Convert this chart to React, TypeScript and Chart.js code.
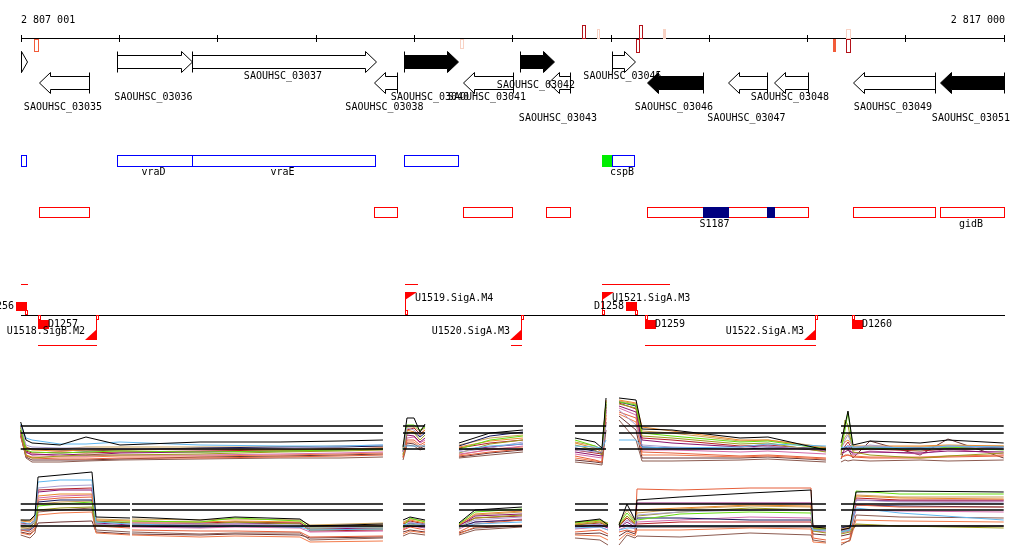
import React, { useEffect, useRef } from 'react';
import { Chart, registerables } from 'chart.js';

Chart.register(...registerables);

// ---------------- genomic window ----------------
const WINDOW_START = 2807001;
const WINDOW_END = 2817000;
const TICK_STEP = 1000;

// ---------------- genes ----------------
const GENES = [
  { name: '', start: 2807001, end: 2807065, strand: 1, dark: false, lane: -1 },
  { name: 'SAOUHSC_03035', start: 2807187, end: 2807696, strand: -1, dark: false, lane: 3 },
  { name: 'SAOUHSC_03036', start: 2807981, end: 2808744, strand: 1, dark: false, lane: 2 },
  { name: 'SAOUHSC_03037', start: 2808744, end: 2810615, strand: 1, dark: false, lane: 0 },
  { name: 'SAOUHSC_03038', start: 2810595, end: 2810829, strand: -1, dark: false, lane: 3 },
  { name: 'SAOUHSC_03040', start: 2810900, end: 2811450, strand: 1, dark: true, lane: 2 },
  { name: 'SAOUHSC_03041', start: 2811501, end: 2812009, strand: -1, dark: false, lane: 2 },
  { name: 'SAOUHSC_03042', start: 2812080, end: 2812426, strand: 1, dark: true, lane: 1 },
  { name: 'SAOUHSC_03043', start: 2812365, end: 2812589, strand: -1, dark: false, lane: 4 },
  { name: 'SAOUHSC_03045', start: 2813016, end: 2813250, strand: 1, dark: false, lane: 0 },
  { name: 'SAOUHSC_03046', start: 2813372, end: 2813942, strand: -1, dark: true, lane: 3 },
  { name: 'SAOUHSC_03047', start: 2814196, end: 2814593, strand: -1, dark: false, lane: 4 },
  { name: 'SAOUHSC_03048', start: 2814664, end: 2815010, strand: -1, dark: false, lane: 2 },
  { name: 'SAOUHSC_03049', start: 2815468, end: 2816302, strand: -1, dark: false, lane: 3 },
  { name: 'SAOUHSC_03051', start: 2816353, end: 2817000, strand: -1, dark: true, lane: 4 },
];

// marks on the coordinate ruler (level 1 weak, 2 medium, 3 strong)
const RULER_MARKS = [
  { from: 2807140, to: 2807172, strand: -1, level: 2, filled: false },
  { from: 2811470, to: 2811496, strand: -1, level: 1, filled: false },
  { from: 2812712, to: 2812744, strand: 1, level: 3, filled: false },
  { from: 2812858, to: 2812884, strand: 1, level: 1, filled: false },
  { from: 2813290, to: 2813322, strand: 1, level: 3, filled: false },
  { from: 2813262, to: 2813292, strand: -1, level: 3, filled: false },
  { from: 2813532, to: 2813556, strand: 1, level: 1, filled: true },
  { from: 2815262, to: 2815284, strand: -1, level: 2, filled: true },
  { from: 2815400, to: 2815440, strand: 1, level: 1, filled: false },
  { from: 2815400, to: 2815440, strand: -1, level: 3, filled: false },
];

// operons (blue) and extra green feature
const OPERONS = [
  { name: '', start: 2807001, end: 2807055 },
  { name: 'vraD', start: 2807981, end: 2808744 },
  { name: 'vraE', start: 2808744, end: 2810605 },
  { name: '', start: 2810900, end: 2811450 },
  { name: 'cspB', start: 2813016, end: 2813240 },
];
const GREEN_FEATURES = [{ start: 2812916, end: 2813016 }];

// transcripts (red) and sRNA (navy)
const TRANSCRIPTS = [
  { name: '', start: 2807187, end: 2807696 },
  { name: '', start: 2810595, end: 2810829 },
  { name: '', start: 2811501, end: 2811999 },
  { name: '', start: 2812346, end: 2812590 },
  { name: '', start: 2813372, end: 2813942 },
  { name: '', start: 2814196, end: 2814593 },
  { name: '', start: 2814664, end: 2815010 },
  { name: '', start: 2815468, end: 2816302 },
  { name: 'gidB', start: 2816353, end: 2817000 },
];
const SRNAS = [
  { name: 'S1187', start: 2813942, end: 2814196 },
  { name: '', start: 2814593, end: 2814664 },
];

// promoters and terminators
const PROMOTERS = [
  { name: 'U1518.SigB.M2', pos: 2807767, strand: -1, spanTo: 2807177 },
  { name: 'U1519.SigA.M4', pos: 2810910, strand: 1, spanTo: 2811032 },
  { name: 'U1520.SigA.M3', pos: 2812090, strand: -1, spanTo: 2811989 },
  { name: 'U1521.SigA.M3', pos: 2812914, strand: 1, spanTo: 2813596 },
  { name: 'U1522.SigA.M3', pos: 2815081, strand: -1, spanTo: 2813352 },
];
const TERMINATORS = [
  { name: 'D1256', pos: 2807050, strand: 1, spanFrom: 2807001, spanTo: 2807060 },
  { name: 'D1257', pos: 2807182, strand: -1, spanFrom: 0, spanTo: 0 },
  { name: 'D1258', pos: 2813260, strand: 1, spanFrom: 0, spanTo: 0 },
  { name: 'D1259', pos: 2813352, strand: -1, spanFrom: 0, spanTo: 0 },
  { name: 'D1260', pos: 2815453, strand: -1, spanFrom: 0, spanTo: 0 },
];

// ---------------- expression panels ----------------
const SERIES_COLORS = [
  '#000000', '#5fb6ef', '#aa9fd0', '#66dd11', '#9c9a1c', '#e9892c', '#8a136e', '#e65f3a',
  '#8b5a4f', '#16165c', '#d46aa9', '#b41f26', '#c99f55', '#f27a4a', '#6a3434',
];

// panel 1 (strand +)
const PANEL1_X = [
  [2807001, 2807055, 2807116, 2807401, 2807665, 2808011, 2808825, 2809639, 2810249, 2810686],
  [2810890, 2810930, 2811002, 2811063, 2811114],
  [2811459, 2811775, 2812110],
  [2812639, 2812843, 2812914, 2812955],
  [2813087, 2813260, 2813321, 2813626, 2814318, 2814602, 2815192],
  [2815345, 2815386, 2815416, 2815467, 2815640, 2816149, 2816433, 2817000],
];
const PANEL1_REF = [4.4, 3.7, 2.1];
const PANEL1_SERIES = [
  [[4.8,3.0,2.7,2.5,3.3,2.5,2.8,2.8,2.9,3.0],[2.3,5.2,5.2,3.8,4.6],[2.7,3.7,4.0],[3.2,2.8,2.2,7.2],[7.2,7.0,4.1,4.0,3.2,3.3,2.0],[2.7,4.5,5.9,2.5,2.9,2.7,3.0,2.7]],
  [[4.6,3.2,3.0,2.6,2.6,2.8,2.5,2.4,2.4,2.5],[2.4,2.4,2.4,2.4,2.4],[2.0,2.4,2.6],[2.4,2.3,2.2,3.0],[3.0,3.0,2.3,2.2,2.3,2.6,2.4],[2.2,2.3,2.4,2.3,2.3,2.2,2.4,2.3]],
  [[4.5,2.5,2.3,2.2,2.2,2.1,2.1,2.2,2.4,2.5],[1.8,4.2,4.0,3.4,3.8],[1.8,2.2,2.8],[2.0,1.8,1.8,4.5],[6.0,4.5,2.5,2.3,2.1,2.4,2.0],[2.0,3.0,3.5,2.2,2.5,2.0,2.4,2.1]],
  [[4.2,2.0,1.8,1.7,1.8,1.9,1.8,1.9,2.0,2.1],[2.0,4.5,4.5,4.0,4.3],[2.1,3.0,3.4],[3.0,2.4,2.0,6.8],[6.8,6.5,3.7,3.4,2.8,2.9,2.1],[2.0,4.0,5.8,2.1,2.2,2.0,2.3,2.0]],
  [[4.0,1.5,1.2,1.4,1.5,1.5,1.6,1.8,1.9,2.0],[1.5,3.8,3.7,3.0,3.5],[1.7,2.6,3.0],[2.5,2.0,1.5,6.5],[6.6,6.2,3.4,3.2,2.6,2.7,1.8],[1.5,5.0,4.5,1.8,1.5,1.2,1.4,1.7]],
  [[4.4,2.2,2.0,1.9,2.0,2.0,2.1,2.0,2.1,2.2],[2.2,4.0,3.8,3.5,4.0],[2.3,2.9,3.2],[2.7,2.2,1.8,7.0],[7.0,6.7,4.3,3.9,3.0,3.0,2.2],[2.3,2.8,3.0,2.4,2.4,2.4,2.5,2.4]],
  [[3.8,1.8,1.5,1.6,1.5,1.7,1.8,1.9,2.0,2.1],[1.8,3.5,3.4,2.8,3.2],[2.0,2.3,2.6],[1.8,1.5,1.4,6.0],[6.4,5.8,3.0,2.7,2.3,2.4,1.9],[1.7,1.8,2.0,1.7,1.8,1.7,1.9,1.8]],
  [[3.6,1.4,1.2,1.1,1.1,1.2,1.2,1.3,1.4,1.5],[1.2,3.0,3.0,2.5,2.8],[1.4,1.8,2.1],[1.4,1.0,0.8,5.5],[5.8,5.2,1.8,1.7,1.4,1.5,1.2],[1.2,1.5,1.5,1.3,1.2,1.2,1.3,1.4]],
  [[3.5,1.2,0.8,0.8,0.9,1.0,1.1,1.2,1.2,1.3],[1.0,2.5,2.4,2.0,2.2],[1.2,1.5,1.8],[0.8,0.6,0.5,4.0],[5.0,3.0,0.9,0.9,1.0,1.1,0.8],[0.8,1.0,0.9,1.0,0.9,1.0,0.9,1.0]],
  [[4.0,2.2,2.1,2.0,1.9,2.0,2.2,2.3,2.3,2.4],[2.1,3.7,3.8,3.3,3.7],[2.4,3.4,3.8],[2.2,1.9,1.7,6.6],[6.8,6.4,2.3,2.2,2.1,2.2,2.2],[2.1,2.2,2.2,2.2,2.2,2.2,2.2,2.3]],
  [[3.7,1.7,1.6,1.4,1.4,1.5,1.5,1.6,1.7,1.8],[1.6,3.2,3.3,2.7,3.0],[1.6,2.0,2.4],[1.6,1.3,1.2,5.8],[6.2,5.5,2.0,2.0,1.8,1.9,1.6],[1.5,2.1,2.5,1.5,1.9,1.6,2.1,1.6]],
  [[3.9,1.9,1.7,1.8,1.7,1.8,1.9,2.0,2.1,2.2],[1.9,4.0,4.2,3.6,4.0],[2.2,2.7,3.0],[2.0,1.7,1.6,6.3],[6.7,6.1,3.2,3.0,2.4,2.5,2.0],[1.9,2.4,2.8,2.0,2.1,1.9,2.1,2.1]],
  [[4.3,2.3,2.1,2.1,2.3,2.3,2.3,2.3,2.4,2.4],[2.4,4.3,4.3,3.9,4.2],[2.5,3.2,3.5],[2.8,2.4,2.1,6.9],[6.9,6.6,3.9,3.7,2.9,3.0,2.3],[2.4,3.3,3.7,2.3,2.3,2.3,2.4,2.4]],
  [[3.3,1.5,1.3,1.3,1.3,1.4,1.4,1.5,1.6,1.7],[1.4,2.8,2.8,2.3,2.6],[1.5,2.1,2.3],[1.2,0.9,0.8,5.2],[5.6,4.8,1.5,1.5,1.3,1.4,1.1],[1.3,1.4,1.5,1.4,1.3,1.3,1.4,1.5]],
  [[3.4,1.3,1.0,1.0,1.0,1.1,1.3,1.4,1.5,1.6],[1.3,2.7,2.6,2.2,2.4],[1.3,1.7,2.0],[1.0,0.8,0.7,4.8],[5.4,4.0,1.2,1.2,1.2,1.3,1.0],[1.1,2.3,2.1,1.2,2.9,1.5,3.1,1.2]],
];

// panel 2 (strand -)
const PANEL2_X = [
  [2807001, 2807096, 2807146, 2807177, 2807401, 2807726, 2807767, 2808113],
  [2808133, 2808825, 2809181, 2809842, 2809944, 2810686],
  [2810890, 2810961, 2811114],
  [2811459, 2811622, 2812100],
  [2812639, 2812893, 2812975],
  [2813087, 2813168, 2813250, 2813270, 2813707, 2814419, 2815040, 2815060, 2815192],
  [2815345, 2815436, 2815498, 2815945, 2817000],
];
const PANEL2_REF = [5.1, 4.5, 2.9];
const PANEL2_SERIES = [
  [[3.5,3.5,4.0,7.8,8.0,8.3,3.8,3.7],[3.8,3.5,3.8,3.6,2.9,3.1],[3.5,3.8,3.5],[3.2,4.5,4.8],[3.3,3.6,3.0],[3.0,5.1,3.5,5.5,5.8,6.2,6.5,2.8,2.7],[2.5,2.7,6.3,6.4,6.3]],
  [[3.3,3.1,3.5,7.3,7.5,7.5,3.3,3.1],[3.1,2.9,2.9,2.8,2.5,2.6],[3.0,3.1,3.1],[2.8,3.1,3.3],[2.7,2.8,2.5],[2.5,2.7,2.7,2.8,2.9,2.9,2.9,2.5,2.5],[2.3,2.5,4.7,4.2,3.5]],
  [[3.1,3.0,3.3,6.7,6.9,7.0,3.1,2.9],[2.9,3.1,3.1,3.0,2.7,2.8],[2.9,3.3,2.9],[2.9,3.5,3.8],[2.9,3.1,2.8],[2.8,3.5,3.0,4.0,4.3,4.5,4.5,2.5,2.4],[2.4,2.6,5.5,5.3,5.2]],
  [[2.9,2.9,3.3,4.9,5.1,5.3,3.3,3.3],[3.4,3.3,3.7,3.4,2.7,2.8],[2.8,3.7,3.3],[3.1,4.3,4.6],[3.2,3.5,3.1],[3.1,4.2,3.3,3.5,4.1,4.3,4.2,2.6,2.6],[2.3,2.5,6.4,6.1,6.1]],
  [[2.7,2.7,3.0,4.5,4.7,4.8,3.0,2.9],[3.0,3.0,3.3,3.1,2.5,2.6],[2.7,3.1,2.9],[2.7,3.7,4.0],[3.0,3.3,2.9],[2.9,3.9,3.1,3.9,4.3,4.7,4.5,2.4,2.2],[2.1,2.3,3.1,2.9,2.7]],
  [[3.4,3.3,3.7,5.9,6.1,6.1,3.5,3.4],[3.4,3.3,3.4,3.3,2.8,3.0],[3.2,3.5,3.2],[3.0,4.1,4.4],[3.1,3.4,3.0],[3.0,3.9,3.2,4.5,4.7,5.0,4.9,2.7,2.6],[2.5,2.7,5.9,5.7,5.6]],
  [[3.0,2.8,3.3,6.3,6.5,6.5,3.2,3.0],[3.0,3.1,3.1,3.2,2.6,2.7],[2.9,3.2,3.0],[2.9,3.9,4.1],[2.8,3.0,2.7],[2.7,3.3,2.8,5.2,5.2,5.2,5.2,2.7,2.6],[2.4,2.6,5.5,5.4,5.4]],
  [[2.5,2.3,2.7,5.5,5.7,5.8,2.9,2.7],[2.5,2.4,2.4,2.3,1.8,1.9],[2.5,2.8,2.5],[2.3,3.1,3.5],[2.3,2.5,2.1],[2.3,2.5,2.3,6.6,6.5,6.7,6.7,1.7,1.5],[1.5,1.7,5.0,4.8,4.8]],
  [[2.0,1.7,2.2,4.3,4.5,4.7,2.5,2.3],[2.3,2.1,2.2,2.2,1.5,1.7],[1.9,2.2,2.0],[2.0,2.5,2.8],[1.7,1.5,1.0],[1.0,2.0,1.7,1.9,1.8,2.2,2.0,1.5,1.3],[1.0,1.5,4.0,3.8,3.7]],
  [[2.5,2.5,2.9,5.3,5.5,5.5,3.0,2.9],[2.9,2.8,2.9,2.8,2.9,2.9],[2.8,2.9,2.8],[2.8,3.3,3.5],[2.9,3.0,2.8],[2.8,3.0,2.8,3.7,3.7,3.5,3.5,2.9,2.9],[2.7,2.9,5.0,4.9,4.8]],
  [[2.8,2.6,3.1,5.7,5.9,6.0,3.1,2.8],[2.8,2.7,2.8,2.7,2.3,2.4],[2.6,2.9,2.7],[2.6,3.3,3.6],[2.6,2.8,2.5],[2.5,2.9,2.6,3.3,3.5,3.8,3.7,2.4,2.3],[2.2,2.4,4.5,4.4,4.3]],
  [[3.2,3.1,3.5,6.5,6.6,6.7,3.4,3.2],[3.2,3.2,3.3,3.2,2.4,2.5],[3.1,3.4,3.1],[3.0,3.7,3.9],[3.0,3.2,2.9],[2.9,3.7,3.0,3.1,3.3,3.3,3.3,2.6,2.5],[2.5,2.7,5.7,5.5,5.5]],
  [[3.5,3.4,3.9,5.1,5.3,5.4,3.6,3.5],[3.6,3.5,3.6,3.5,3.0,3.2],[3.3,3.6,3.4],[3.1,4.0,4.3],[3.3,3.5,3.2],[3.2,4.5,3.4,4.2,4.6,4.9,4.8,2.8,2.7],[2.6,2.8,6.0,5.8,5.8]],
  [[2.2,2.0,2.5,4.0,4.2,4.3,2.2,2.0],[2.0,1.8,1.9,1.8,1.3,1.4],[2.1,2.4,2.2],[2.1,2.8,3.0],[2.0,1.9,1.5],[1.5,2.2,1.9,2.5,2.5,2.7,2.6,1.3,1.2],[1.2,1.4,3.5,3.4,3.3]],
  [[2.3,2.1,2.5,3.2,3.3,3.4,2.3,2.1],[2.1,2.0,2.1,2.0,1.7,1.8],[2.3,2.5,2.3],[2.2,2.7,2.9],[2.1,2.2,1.9],[1.9,2.4,2.1,2.8,2.8,2.8,2.8,2.1,2.0],[1.9,2.1,3.0,2.9,2.9]],
];

// ---------------- layout (pixels) ----------------
const W = 1024;
const H = 559;
const PX_LEFT = 20.7;
const PX_RIGHT = 1003.7;
const BP_PER_PX = (WINDOW_END - WINDOW_START) / (PX_RIGHT - PX_LEFT);
const X_MIN = WINDOW_START - PX_LEFT * BP_PER_PX;
const X_MAX = X_MIN + W * BP_PER_PX;
const PANEL1_ZERO_PX = 470;
const PANEL2_ZERO_PX = 555;
const PX_PER_UNIT = 10;
const FONT = '10px "DejaVu Sans Mono", "Liberation Mono", monospace';
const LABEL_LANES_Y = [76, 85, 97, 107, 118];

function segData(xs: number[][], vals: number[][]) {
  const out: { x: number; y: number | null }[] = [];
  xs.forEach((seg, si) => {
    if (si > 0) {
      const prev = xs[si - 1];
      out.push({ x: (prev[prev.length - 1] + seg[0]) / 2, y: null });
    }
    seg.forEach((x, i) => out.push({ x, y: vals[si][i] }));
  });
  return out;
}

function refData(xs: number[][], v: number) {
  return segData(xs.map((s) => [s[0], s[s.length - 1]]), xs.map(() => [v, v]));
}

function fmt(n: number) {
  return String(n).replace(/\B(?=(\d{3})+(?!\d))/g, ' ');
}

const tracksPlugin = {
  id: 'genomeTracks',
  afterDraw(chart: any) {
    const ctx: CanvasRenderingContext2D = chart.ctx;
    const xs = chart.scales.x;
    const X = (bp: number) => Math.round(xs.getPixelForValue(bp));
    ctx.save();
    ctx.lineWidth = 1;
    ctx.font = FONT;
    ctx.fillStyle = '#000';
    ctx.strokeStyle = '#000';

    // ruler
    const x0 = X(WINDOW_START);
    const x1 = X(WINDOW_END);
    ctx.textBaseline = 'middle';
    ctx.textAlign = 'left';
    ctx.fillText(fmt(WINDOW_START), x0, 20);
    ctx.textAlign = 'right';
    ctx.fillText(fmt(WINDOW_END), x1 + 1, 20);
    ctx.beginPath();
    ctx.moveTo(x0, 38.5);
    ctx.lineTo(x1 + 1, 38.5);
    for (let p = WINDOW_START; p < WINDOW_END; p += TICK_STEP) {
      const t = X(p) + 0.5;
      ctx.moveTo(t, 35);
      ctx.lineTo(t, 42);
    }
    ctx.moveTo(x1 + 0.5, 35);
    ctx.lineTo(x1 + 0.5, 42);
    ctx.stroke();

    const markColors: Record<number, string> = { 1: '#f8d2c4', 2: '#f25c3a', 3: '#b3121a' };
    const markHeights: Record<number, number> = { 1: 9, 2: 12, 3: 13 };
    RULER_MARKS.forEach((m) => {
      const a = X(m.from);
      const w = Math.max(2, X(m.to) - a);
      const h = markHeights[m.level];
      const top = m.strand > 0 ? 38 - h : 39;
      ctx.strokeStyle = markColors[m.level];
      ctx.fillStyle = markColors[m.level];
      if (m.filled) ctx.fillRect(a, top, w + 1, h + 1);
      else ctx.strokeRect(a + 0.5, top + 0.5, w, h);
    });

    // genes
    ctx.strokeStyle = '#000';
    GENES.forEach((g) => {
      const a = X(g.start) + 0.5;
      const b = X(g.end) + 0.5;
      const r = g.strand > 0 ? { yt: 51.5, yb: 72.5, bt: 55.5, bb: 68.5 } : { yt: 72.5, yb: 93.5, bt: 76.5, bb: 89.5 };
      const ym = (r.yt + r.yb) / 2;
      const head = Math.min(11, b - a);
      ctx.beginPath();
      if (g.strand > 0) {
        const hx = b - head;
        ctx.moveTo(a, r.bt);
        ctx.lineTo(hx, r.bt);
        ctx.lineTo(hx, r.yt);
        ctx.lineTo(b, ym);
        ctx.lineTo(hx, r.yb);
        ctx.lineTo(hx, r.bb);
        ctx.lineTo(a, r.bb);
      } else {
        const hx = a + head;
        ctx.moveTo(b, r.bt);
        ctx.lineTo(hx, r.bt);
        ctx.lineTo(hx, r.yt);
        ctx.lineTo(a, ym);
        ctx.lineTo(hx, r.yb);
        ctx.lineTo(hx, r.bb);
        ctx.lineTo(b, r.bb);
      }
      ctx.closePath();
      ctx.fillStyle = g.dark ? '#000' : '#fff';
      ctx.fill();
      ctx.stroke();
      const tx = g.strand > 0 ? a : b;
      ctx.beginPath();
      ctx.moveTo(tx, r.yt);
      ctx.lineTo(tx, r.yb);
      ctx.stroke();
    });
    ctx.fillStyle = '#000';
    ctx.textAlign = 'center';
    GENES.forEach((g) => {
      if (g.lane < 0) return;
      ctx.fillText(g.name, (X(g.start) + X(g.end)) / 2 - 1, LABEL_LANES_Y[g.lane]);
    });

    // operons
    GREEN_FEATURES.forEach((f) => {
      ctx.fillStyle = '#00ee00';
      ctx.fillRect(X(f.start), 155, X(f.end) - X(f.start) + 1, 12);
    });
    ctx.strokeStyle = '#0000ff';
    OPERONS.forEach((o) => {
      const a = X(o.start);
      ctx.strokeRect(a + 0.5, 155.5, X(o.end) - a, 11);
    });
    ctx.fillStyle = '#000';
    OPERONS.forEach((o) => {
      if (o.name) ctx.fillText(o.name, (X(o.start) + X(o.end)) / 2 - 1, 172);
    });

    // transcripts
    ctx.strokeStyle = '#ff0000';
    TRANSCRIPTS.forEach((t) => {
      const a = X(t.start);
      ctx.strokeRect(a + 0.5, 207.5, X(t.end) - a, 10);
    });
    ctx.fillStyle = '#000080';
    SRNAS.forEach((s) => {
      ctx.fillRect(X(s.start), 207, X(s.end) - X(s.start) + 1, 11);
    });
    ctx.fillStyle = '#000';
    [...TRANSCRIPTS, ...SRNAS].forEach((t) => {
      if (t.name) ctx.fillText(t.name, (X(t.start) + X(t.end)) / 2 - 1, 224);
    });

    // promoter / terminator track
    ctx.strokeStyle = '#000';
    ctx.beginPath();
    ctx.moveTo(x0, 315.5);
    ctx.lineTo(x1 + 1, 315.5);
    ctx.stroke();

    ctx.strokeStyle = '#ff0000';
    ctx.fillStyle = '#ff0000';
    PROMOTERS.forEach((p) => {
      const x = X(p.pos);
      const s = X(p.spanTo);
      ctx.beginPath();
      if (p.strand > 0) {
        ctx.moveTo(x + 0.5, 292);
        ctx.lineTo(x + 0.5, 315);
        ctx.moveTo(Math.min(x, s), 284.5);
        ctx.lineTo(Math.max(x, s) + 1, 284.5);
      } else {
        ctx.moveTo(x + 0.5, 316);
        ctx.lineTo(x + 0.5, 340);
        ctx.moveTo(Math.min(x, s), 345.5);
        ctx.lineTo(Math.max(x, s) + 1, 345.5);
      }
      ctx.stroke();
      ctx.beginPath();
      if (p.strand > 0) {
        ctx.moveTo(x, 292);
        ctx.lineTo(x + 12, 292);
        ctx.lineTo(x, 300);
        ctx.strokeRect(x + 0.5, 310.5, 2, 4);
      } else {
        ctx.moveTo(x - 11, 340);
        ctx.lineTo(x + 1, 340);
        ctx.lineTo(x + 1, 329);
        ctx.strokeRect(x + 0.5, 315.5, 2, 4);
      }
      ctx.closePath();
      ctx.fill();
    });
    TERMINATORS.forEach((t) => {
      const x = X(t.pos);
      if (t.strand > 0) {
        ctx.fillRect(x - 10, 302, 11, 9);
        ctx.strokeRect(x - 0.5, 310.5, 2, 4);
      } else {
        ctx.fillRect(x, 320, 11, 9);
        ctx.strokeRect(x + 0.5, 315.5, 2, 4);
      }
      if (t.spanFrom && t.spanTo) {
        const y = t.strand > 0 ? 284.5 : 345.5;
        ctx.beginPath();
        ctx.moveTo(X(t.spanFrom), y);
        ctx.lineTo(X(t.spanTo) + 1, y);
        ctx.stroke();
      }
    });
    ctx.fillStyle = '#000';
    PROMOTERS.forEach((p) => {
      const x = X(p.pos);
      if (p.strand > 0) {
        ctx.textAlign = 'left';
        ctx.fillText(p.name, x + 10, 298);
      } else {
        ctx.textAlign = 'right';
        ctx.fillText(p.name, x - 11, 331);
      }
    });
    TERMINATORS.forEach((t) => {
      const x = X(t.pos);
      if (t.strand > 0) {
        ctx.textAlign = 'right';
        ctx.fillText(t.name, x - 12, 306);
      } else {
        ctx.textAlign = 'left';
        ctx.fillText(t.name, x + 10, 324);
      }
    });
    ctx.restore();
  },
};

export default function App() {
  const ref = useRef<HTMLCanvasElement | null>(null);
  useEffect(() => {
    if (!ref.current) return;
    const datasets: any[] = [];
    const addRefs = (xs: number[][], refs: number[], axis: string) => {
      refs.forEach((v) =>
        datasets.push({ data: refData(xs, v), borderColor: '#000', borderWidth: 1.3, yAxisID: axis }),
      );
    };
    addRefs(PANEL1_X, PANEL1_REF, 'y1');
    addRefs(PANEL2_X, PANEL2_REF, 'y2');
    PANEL1_SERIES.forEach((s, i) =>
      datasets.push({ data: segData(PANEL1_X, s), borderColor: SERIES_COLORS[i], borderWidth: 1, yAxisID: 'y1' }),
    );
    PANEL2_SERIES.forEach((s, i) =>
      datasets.push({ data: segData(PANEL2_X, s), borderColor: SERIES_COLORS[i], borderWidth: 1, yAxisID: 'y2' }),
    );
    datasets.forEach((d) => {
      d.xAxisID = 'x';
      d.pointRadius = 0;
      d.spanGaps = false;
      d.fill = false;
      d.tension = 0;
    });

    const chart = new Chart(ref.current, {
      type: 'line',
      data: { datasets },
      options: {
        animation: false,
        responsive: false,
        devicePixelRatio: 1,
        events: [],
        layout: { padding: 0 },
        plugins: { legend: { display: false }, tooltip: { enabled: false } },
        scales: {
          x: { type: 'linear', min: X_MIN, max: X_MAX, display: false },
          y1: {
            type: 'linear',
            display: false,
            max: PANEL1_ZERO_PX / PX_PER_UNIT,
            min: (PANEL1_ZERO_PX - H) / PX_PER_UNIT,
          },
          y2: {
            type: 'linear',
            display: false,
            max: PANEL2_ZERO_PX / PX_PER_UNIT,
            min: (PANEL2_ZERO_PX - H) / PX_PER_UNIT,
          },
        },
      },
      plugins: [tracksPlugin],
    } as any);
    return () => chart.destroy();
  }, []);

  return (
    <div style={{ position: 'fixed', left: 0, top: 0, width: W, height: H, background: '#fff' }}>
      <canvas ref={ref} width={W} height={H} style={{ display: 'block', width: W, height: H }} />
    </div>
  );
}
